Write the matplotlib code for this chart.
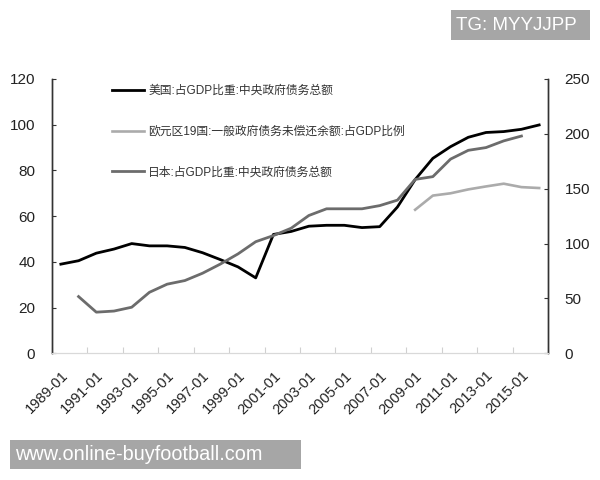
import matplotlib
matplotlib.use("Agg")
import matplotlib.pyplot as plt
from matplotlib.patches import Rectangle
import numpy as np

plt.rcParams['font.family'] = ['Liberation Sans', 'Noto Sans CJK SC', 'DejaVu Sans']

years = list(range(1989, 2017))
tick_labels = [f"{y}-01" for y in range(1989, 2017, 2)]

us = [39, 40.5, 43.8, 45.6, 48, 47, 47, 46.3, 44, 41, 37.8, 33, 52, 53.3,
      55.6, 56, 56, 55, 55.4, 64, 76, 85.3, 90.4, 94.5, 96.6, 97, 98, 99.9]
euro_years = list(range(2009, 2017))
euro = [62.8, 69, 70, 71.7, 73, 74.2, 72.7, 72.3]
japan_years = list(range(1990, 2016))
japan = [51.7, 37.5, 38.5, 42, 55.6, 63, 66.3, 73, 81.3, 90.6, 101.7, 107.3,
         114, 125.6, 131.7, 131.7, 131.7, 134.6, 139.6, 158.5, 161, 177, 185,
         187.5, 193.6, 198]

label_us = "美国:占GDP比重:中央政府债务总额"
label_eu = "欧元区19国:一般政府债务未偿还余额:占GDP比例"
label_jp = "日本:占GDP比重:中央政府债务总额"

fig = plt.figure(figsize=(6, 4.8), dpi=100)
ax = fig.add_axes([52/600, 1-353.3/480, 496/600, 274.3/480])
ax2 = ax.twinx()

xi = lambda ys: [y - 1989 for y in ys]
l1, = ax.plot(xi(years), us, color='#000000', lw=2.0, solid_joinstyle='round')
l2, = ax.plot(xi(euro_years), euro, color='#ababab', lw=1.9, solid_joinstyle='round')
l3, = ax2.plot(xi(japan_years), japan, color='#6c6c6c', lw=2.0, solid_joinstyle='round')

ax.set_xlim(-0.5, len(years) - 0.5)
ax.set_ylim(0, 120)
ax2.set_ylim(0, 250)
ax.set_yticks(range(0, 121, 20))
ax2.set_yticks(range(0, 251, 50))

ax.set_xticks(np.arange(-0.5, len(years), 2))
ax.set_xticklabels([])
ax.set_xticks(np.arange(0, len(years), 2), minor=True)
ax.set_xticklabels(tick_labels, minor=True, rotation=45, ha='right',
                   rotation_mode='anchor', fontsize=10.5, color='#222222')
ax.tick_params(axis='x', which='major', direction='in', length=4, color='#d0d0d0')
ax.tick_params(axis='x', which='minor', length=0, pad=11)

ax.tick_params(axis='y', direction='in', length=3, labelsize=11, color='#333333',
               labelcolor='#222222', pad=12)
ax2.tick_params(axis='y', direction='in', length=3, labelsize=11, color='#333333',
                labelcolor='#222222', pad=12)

for a in (ax, ax2):
    a.spines['top'].set_visible(False)
    a.spines['bottom'].set_color('#d9d9d9')
    a.spines['left'].set_color('#333333')
    a.spines['right'].set_color('#333333')
    a.spines['left'].set_linewidth(1.0)
    a.spines['right'].set_linewidth(1.0)
    a.patch.set_visible(False)

leg = ax.legend([l1, l2, l3], [label_us, label_eu, label_jp], frameon=False,
                loc='upper left', bbox_to_anchor=(107/600, 1-80/480),
                bbox_transform=fig.transFigure, fontsize=8.5,
                handlelength=2.75, handletextpad=0.35, labelspacing=2.45,
                borderaxespad=0)
for t in leg.get_texts():
    t.set_color('#333333')

fig.add_artist(Rectangle((451/600, 1-40/480), 139/600, 30/480,
                         transform=fig.transFigure, facecolor='#a6a6a6',
                         edgecolor='none'))
fig.text(456/600, 1-25/480, "TG: MYYJJPP", color='white', fontsize=13.5,
         va='center', ha='left')
fig.add_artist(Rectangle((10/600, 1-469/480), 291/600, 29/480,
                         transform=fig.transFigure, facecolor='#a6a6a6',
                         edgecolor='none'))
fig.text(15/600, 1-455/480, "www.online-buyfootball.com", color='white',
         fontsize=14.3, va='center', ha='left')

fig.savefig("out.png", dpi=100)
